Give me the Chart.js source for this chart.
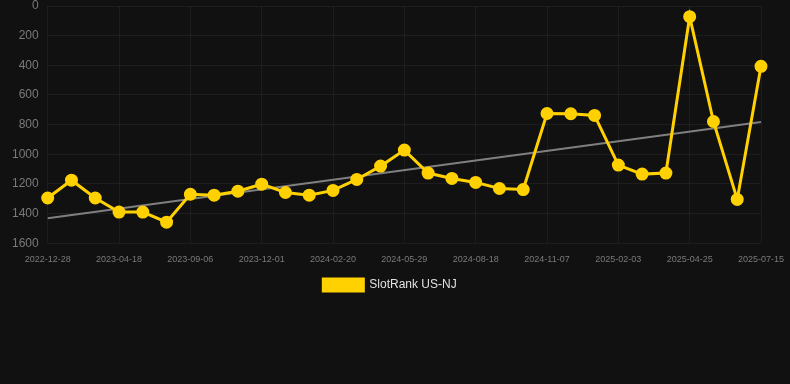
<!DOCTYPE html>
<html>
<head>
<meta charset="utf-8">
<script src="https://cdn.jsdelivr.net/npm/chart.js@4"></script>
<style>
  html, body { margin: 0; padding: 0; background: #111111; }
  #wrap { position: relative; width: 790px; height: 301px; }
</style>
</head>
<body>
<div id="wrap"><canvas id="chart"></canvas></div>
<script>
// Rank over time (lower is better, axis reversed). Only every third date is labelled.
const dates = [
  "2022-12-28", "2023-02-03", "2023-03-12",
  "2023-04-18", "2023-06-04", "2023-07-21",
  "2023-09-06", "2023-10-05", "2023-11-03",
  "2023-12-01", "2023-12-28", "2024-01-24",
  "2024-02-20", "2024-03-24", "2024-04-26",
  "2024-05-29", "2024-06-25", "2024-07-22",
  "2024-08-18", "2024-09-14", "2024-10-11",
  "2024-11-07", "2024-12-06", "2025-01-04",
  "2025-02-03", "2025-03-02", "2025-03-29",
  "2025-04-25", "2025-05-22", "2025-06-18",
  "2025-07-15",
];
const rank = [
  1295, 1175, 1295, 1390, 1390, 1458, 1270, 1276, 1249, 1202,
  1258, 1276, 1244, 1170, 1080, 972, 1127, 1163, 1190, 1231,
  1238, 725, 727, 738, 1073, 1134, 1127, 72, 779, 1305,
  407,
];
// trend line end points
const trendStart = 1431;
const trendEnd = 783;
const yTicks = [0, 200, 400, 600, 800, 1000, 1200, 1400, 1600];

const YELLOW = "#ffd100";
const trend = dates.map((_, i) => (i === 0 ? trendStart : i === dates.length - 1 ? trendEnd : null));

Chart.defaults.font.family = "Arial, 'Liberation Sans', Helvetica, sans-serif";

new Chart(document.getElementById("chart"), {
  type: "line",
  data: {
    labels: dates,
    datasets: [
      {
        label: "SlotRank US-NJ", data: rank,
        borderColor: YELLOW, backgroundColor: YELLOW,
        borderWidth: 3, pointRadius: 5, pointHoverRadius: 6,
        tension: 0, order: 1,
      },
      {
        label: "trend", data: trend, spanGaps: true,
        borderColor: "rgba(140,140,140,0.9)", borderWidth: 2,
        pointRadius: 0, fill: false, order: 2,
      },
    ],
  },
  options: {
    responsive: true, maintainAspectRatio: false, animation: false,
    layout: { autoPadding: false, padding: { top: 0, right: 13, left: 3, bottom: 0 } },
    plugins: {
      legend: {
        position: "bottom",
        labels: {
          color: "#e0e0e0", font: { size: 12 }, boxWidth: 40, boxHeight: 12,
          filter: (item) => item.text !== "trend",
        },
      },
      tooltip: { enabled: false },
    },
    scales: {
      x: {
        grid: { color: "rgba(255,255,255,0.05)", drawTicks: false },
        border: { display: false },
        ticks: {
          color: "#7a7a7a", font: { size: 9 }, maxRotation: 0, autoSkip: false, padding: 11,
          callback(v, i) { return i % 3 === 0 ? this.getLabelForValue(v) : null; },
        },
        afterFit(axis) { axis.paddingRight = 29; axis.height -= 7; },
      },
      y: {
        reverse: true, min: 0, max: 1600,
        afterBuildTicks: (axis) => { axis.ticks = yTicks.map((v) => ({ value: v })); },
        grid: { color: "rgba(255,255,255,0.05)", drawTicks: false },
        border: { display: false },
        ticks: { color: "#7a7a7a", font: { size: 12 }, padding: 9, callback: (v) => String(v) },
        afterFit(axis) { axis.paddingTop = 6; },
      },
    },
  },
});
</script>
</body>
</html>
